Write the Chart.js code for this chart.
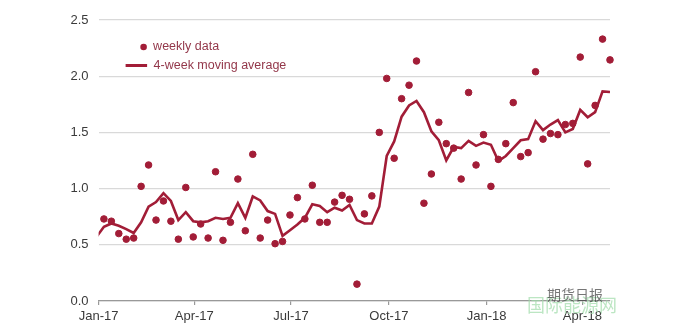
<!DOCTYPE html>
<html>
<head>
<meta charset="utf-8">
<script src="https://cdn.jsdelivr.net/npm/chart.js@4.4.1/dist/chart.umd.min.js"></script>
<style>
    body { margin: 0; background: #fff; }
    #wrap { width: 680px; height: 330px; }
</style>
</head>
<body>
<div id="wrap"><canvas id="weeklyChart" width="680" height="330"></canvas></div>
<script>
// x values are days counted from 1 Jan 2017
const tickDays = [0, 90, 181, 273, 365, 455];
const tickLabels = ['Jan-17', 'Apr-17', 'Jul-17', 'Oct-17', 'Jan-18', 'Apr-18'];

// weekly observations, first one on 6 Jan 2017 (day 5)
const firstWeekDay = 5;
const weeklyData = [
    0.73, 0.71, 0.60, 0.55, 0.56, 1.02, 1.21, 0.72, 0.89, 0.71,
    0.55, 1.01, 0.57, 0.685, 0.56, 1.15, 0.54, 0.70, 1.085, 0.625,
    1.305, 0.56, 0.72, 0.51, 0.53, 0.765, 0.92, 0.73, 1.03, 0.70,
    0.70, 0.88, 0.94, 0.905, 0.15, 0.775, 0.935, 1.50, 1.98, 1.27,
    1.80, 1.92, 2.135, 0.87, 1.13, 1.59, 1.40, 1.36, 1.085, 1.855,
    1.21, 1.48, 1.02, 1.26, 1.40, 1.765, 1.285, 1.32, 2.04, 1.44,
    1.49, 1.48, 1.57, 1.58, 2.17, 1.22, 1.74, 2.33, 2.145
];

// 4-week moving average, first value on 30 Dec 2016 (day -2)
const avgStartDay = -2;
const movingAverage = [
    0.57, 0.66, 0.69, 0.67, 0.64, 0.605, 0.70, 0.84, 0.88, 0.96,
    0.89, 0.72, 0.79, 0.71, 0.70, 0.71, 0.74, 0.73, 0.74, 0.87,
    0.74, 0.93, 0.895, 0.80, 0.775, 0.58, 0.63, 0.68, 0.74, 0.86,
    0.845, 0.79, 0.83, 0.805, 0.855, 0.72, 0.69, 0.69, 0.84, 1.29,
    1.42, 1.64, 1.74, 1.78, 1.68, 1.51, 1.43, 1.25, 1.37, 1.36,
    1.425, 1.38, 1.41, 1.39, 1.245, 1.29, 1.36, 1.43, 1.44, 1.60,
    1.52, 1.57, 1.61, 1.50, 1.53, 1.70, 1.635, 1.68, 1.865, 1.86
];

const RED = '#a21d37';
const FONT = "'Liberation Sans', Arial, sans-serif";

const weeklyPoints = weeklyData.map((v, i) => ({ x: firstWeekDay + 7 * i, y: v }));
const avgPoints = movingAverage.map((v, i) => ({ x: avgStartDay + 7 * i, y: v }));

// legend sits inside the plot, drawn by hand
const insideLegend = {
    id: 'insideLegend',
    afterDraw(chart) {
        const c = chart.ctx;
        const a = chart.chartArea;
        const x = a.left + 45;
        const y = a.top + 27;
        c.save();
        c.fillStyle = RED;
        c.beginPath();
        c.arc(x, y, 3.3, 0, Math.PI * 2);
        c.fill();
        c.strokeStyle = RED;
        c.lineWidth = 3;
        c.beginPath();
        c.moveTo(x - 18, y + 18.5);
        c.lineTo(x + 3.5, y + 18.5);
        c.stroke();
        c.font = '12.5px ' + FONT;
        c.fillStyle = '#93374a';
        c.textBaseline = 'middle';
        c.fillText(chart.data.datasets[0].label, x + 9.5, y);
        c.fillText(chart.data.datasets[1].label, x + 10, y + 18.5);
        c.restore();
    }
};

// faint source watermark in the lower right corner
const watermark = {
    id: 'watermark',
    afterDraw(chart) {
        const c = chart.ctx;
        c.save();
        c.textBaseline = 'middle';
        c.font = "18px 'Noto Sans CJK SC'";
        c.fillStyle = 'rgba(160, 220, 170, 0.7)';
        c.fillText('国际能源网', 527, 305);
        c.font = "14px 'Noto Sans CJK SC'";
        c.fillStyle = 'rgba(60, 60, 60, 0.7)';
        c.fillText('期货日报', 547, 295);
        c.restore();
    }
};

const ctx = document.getElementById('weeklyChart').getContext('2d');
new Chart(ctx, {
    data: {
        datasets: [{
            type: 'scatter',
            label: 'weekly data',
            data: weeklyPoints,
            backgroundColor: RED,
            borderColor: RED,
            pointRadius: 3.3,
            pointHoverRadius: 3.3,
            clip: false,
            order: 1
        }, {
            type: 'line',
            label: '4-week moving average',
            data: avgPoints,
            borderColor: RED,
            borderWidth: 2.6,
            pointRadius: 0,
            tension: 0,
            clip: 0,
            order: 2
        }]
    },
    options: {
        responsive: false,
        animation: false,
        layout: { padding: { left: 0, right: 70, top: 20, bottom: 0 } },
        plugins: {
            legend: { display: false },
            tooltip: { enabled: false }
        },
        scales: {
            x: {
                type: 'linear',
                min: 0,
                max: 481,
                afterBuildTicks: scale => {
                    scale.ticks = tickDays.map(d => ({ value: d }));
                },
                afterFit: scale => { scale.height = 29; },
                grid: {
                    drawOnChartArea: false,
                    drawTicks: true,
                    tickLength: 4,
                    color: '#999',
                    lineWidth: 1.2
                },
                border: { display: true, color: '#999', width: 1.3 },
                ticks: {
                    autoSkip: false,
                    maxRotation: 0,
                    padding: 4,
                    color: '#3a3a3a',
                    font: { family: FONT, size: 13 },
                    callback: (v, i) => tickLabels[i]
                }
            },
            y: {
                min: 0,
                max: 2.5,
                afterFit: scale => { scale.width = 98.6; },
                grid: { color: '#d9d9d9', lineWidth: 1.3, drawTicks: false },
                border: { display: false },
                ticks: {
                    stepSize: 0.5,
                    padding: 10,
                    color: '#3a3a3a',
                    font: { family: FONT, size: 13 },
                    callback: v => v.toFixed(1)
                }
            }
        }
    },
    plugins: [insideLegend, watermark]
});
</script>
</body>
</html>
